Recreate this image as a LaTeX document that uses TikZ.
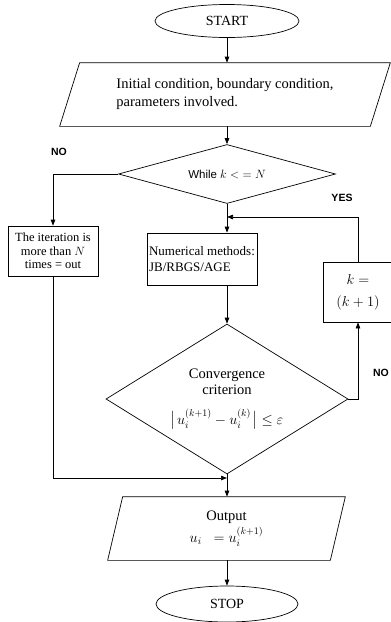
\documentclass[tikz,border=0pt]{standalone}
\usepackage{amsmath, amssymb}
\usepackage{fontspec}
\setmainfont{Liberation Serif}
\setsansfont{Liberation Sans}
\usetikzlibrary{shapes.geometric, arrows.meta}

\tikzset{
  term/.style={draw, ellipse, inner sep=0pt, minimum width=144pt, minimum height=33pt, font=\fontsize{14}{16}\selectfont},
  inout/.style={rectangle, inner sep=0pt, minimum height=63pt, font=\fontsize{14.5}{18}\selectfont},
  procbox/.style={draw, rectangle, inner sep=2pt, font=\fontsize{13}{16}\selectfont},
  decide/.style={draw, diamond, inner sep=0pt, font=\fontsize{14.5}{16}\selectfont},
  yesno/.style={font=\sffamily\bfseries\fontsize{10.5}{12}\selectfont},
  flow/.style={-{Triangle[length=6pt,width=4.5pt]}}
}

\begin{document}
\begin{tikzpicture}[x=1pt, y=-1pt, line width=0.7pt]

\useasboundingbox (0,0) rectangle (391,622);

\node[term] (start) at (227,21) {START};
\node[inout, minimum width=310pt, align=left] (init) at (225,94.5) {Initial condition, boundary condition,\\parameters involved.};
\draw ([xshift=10pt]init.north west) -- ([xshift=10pt]init.north east) -- ([xshift=-10pt]init.south east) -- ([xshift=-10pt]init.south west) -- cycle;
\node[decide, aspect=3.68, minimum width=217pt, minimum height=59pt, font=\sffamily\fontsize{11.5}{13}\selectfont] (while) at (227,174) {While $k < \; = N$};

\node[procbox, minimum width=90pt, minimum height=50pt, align=center, font=\fontsize{12.5}{13.5}\selectfont] (iter) at (53,251) {The iteration is\\more than $N$\\times = out};
\node[procbox, minimum width=110pt, minimum height=52pt, align=left] (num) at (202,259) {Numerical methods:\\JB/RBGS/AGE};
\node[procbox, minimum width=70pt, minimum height=60pt, align=center, font=\fontsize{14.5}{22}\selectfont] (kbox) at (358,292) {$k =$\\$(k+1)$};

\node[decide, aspect=1.61, minimum width=242pt, minimum height=150pt, align=center] (conv) at (227,399) {Convergence\\criterion\\[14pt]$\bigl|\mkern2mu u_i^{(k+1)} - u_i^{(k)}\mkern2mu\bigr| \le \varepsilon$};

\coordinate (join) at (227,478);
\coordinate (back) at (227,217);

\node[inout, minimum width=222pt, align=center, font=\fontsize{14.5}{22}\selectfont] (out) at (226.5,528.5) {Output\\$u_i \;\; = u_i^{(k+1)}$};
\draw ([xshift=7.5pt]out.north west) -- ([xshift=7.5pt]out.north east) -- ([xshift=-7.5pt]out.south east) -- ([xshift=-7.5pt]out.south west) -- cycle;
\node[term, minimum width=142pt, minimum height=36pt] (stop) at (227,604) {STOP};

\node[yesno] (no1) at (59,152) {NO};
\node[yesno] (yes) at (342,198) {YES};
\node[yesno] (no2) at (381,373) {NO};

\draw[flow] (start.south) -- (start.south |- init.north);
\draw[flow] (while.north |- init.south) -- (while.north);
\draw[flow] (while.west) -| (iter.north);
\draw[flow] (while.south) -- (while.south |- num.north);
\draw[flow] (kbox.north) |- (back);
\draw[flow] (conv.north |- num.south) -- (conv.north);
\draw[flow] (conv.east) -| (kbox.south);
\draw[flow] (conv.south) -- (conv.south |- out.north);
\draw[flow] (iter.south) |- (join);
\draw[flow] (out.south -| stop.north) -- (stop.north);

\end{tikzpicture}
\end{document}
